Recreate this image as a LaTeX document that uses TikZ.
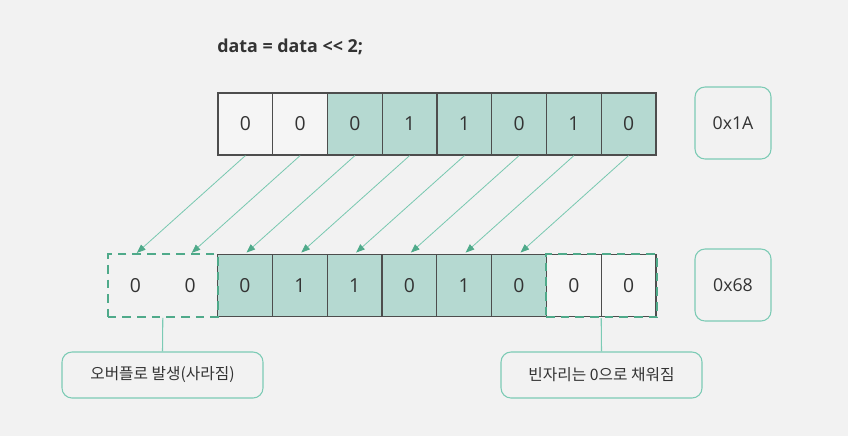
\documentclass[tikz,border=0pt]{standalone}
\usepackage{fontspec}
\setmainfont{Open Sans}
\newfontfamily\kr{Noto Sans CJK KR}
\usetikzlibrary{arrows.meta,fit}

\definecolor{bgcol}{RGB}{242,242,242}
\definecolor{bitfill}{RGB}{181,217,209}
\definecolor{bitline}{RGB}{77,77,77}
\definecolor{emptyfill}{RGB}{245,245,245}
\definecolor{arrowgreen}{RGB}{120,200,176}
\definecolor{dashgreen}{RGB}{79,170,138}
\definecolor{notegreen}{RGB}{124,203,181}
\definecolor{txtcol}{RGB}{51,51,51}

\begin{document}
\begin{tikzpicture}[x=0.75pt,y=0.75pt,yscale=-1,xscale=1,
    bit/.style={minimum width=41.06pt,minimum height=46.5pt,inner sep=0pt,text=txtcol,font=\fontsize{14.5}{17}\selectfont},
    setbit/.style={bit,draw=bitline,line width=0.9pt,fill=bitfill},
    emptybit/.style={bit,draw=bitline,line width=0.9pt,fill=emptyfill},
    freebit/.style={bit},
    dashbox/.style={draw=dashgreen,line width=1.5pt,dash pattern={on 6.5pt off 4.5pt},inner sep=0pt},
    hexbox/.style={draw=notegreen,line width=0.8pt,rounded corners=7.5pt,minimum width=57pt,minimum height=54pt,text=txtcol,font=\fontsize{13.3}{16}\selectfont},
    notebox/.style={draw=notegreen,line width=0.8pt,rounded corners=7.5pt,minimum width=150.75pt,minimum height=34.5pt,text=txtcol,font=\kr\fontsize{11.8}{15}\selectfont},
    bitarrow/.style={draw=arrowgreen,line width=0.6pt,-{Triangle[length=6.5pt,width=5pt,color=dashgreen]},shorten >=1.5pt},
    noteline/.style={draw=notegreen,line width=0.8pt}]
    \useasboundingbox[fill=bgcol] (0,0) rectangle (848,436);

    % Title
    \node [anchor=west,inner sep=0pt,text=txtcol,font=\bfseries\fontsize{13.4}{16}\selectfont] (title) at (217,47) {data = data <\kern0pt< 2;};

    % Source bits
    \node [emptybit] (s0) at (245.4,124) {0};
    \node [emptybit] (s1) at (300.1,124) {0};
    \node [setbit] (s2) at (354.9,124) {0};
    \node [setbit] (s3) at (409.6,124) {1};
    \node [setbit] (s4) at (464.4,124) {1};
    \node [setbit] (s5) at (519.1,124) {0};
    \node [setbit] (s6) at (573.9,124) {1};
    \node [setbit] (s7) at (628.6,124) {0};

    % Shifted bits
    \node [freebit] (r0) at (135.4,285.5) {0};
    \node [freebit] (r1) at (190.2,285.5) {0};
    \node [setbit] (r2) at (245.0,285.5) {0};
    \node [setbit] (r3) at (299.8,285.5) {1};
    \node [setbit] (r4) at (354.6,285.5) {1};
    \node [setbit] (r5) at (409.4,285.5) {0};
    \node [setbit] (r6) at (464.2,285.5) {1};
    \node [setbit] (r7) at (519.0,285.5) {0};
    \node [emptybit] (r8) at (573.8,285.5) {0};
    \node [emptybit] (r9) at (628.6,285.5) {0};

    % Dashed groups
    \node [dashbox,fit=(r0)(r1)] (ovf) {};
    \node [dashbox,fit=(r8)(r9)] (fill) {};

    % Shift arrows
    \draw [bitarrow] (s0.south) -- (r0.north);
    \draw [bitarrow] (s1.south) -- (r1.north);
    \draw [bitarrow] (s2.south) -- (r2.north);
    \draw [bitarrow] (s3.south) -- (r3.north);
    \draw [bitarrow] (s4.south) -- (r4.north);
    \draw [bitarrow] (s5.south) -- (r5.north);
    \draw [bitarrow] (s6.south) -- (r6.north);
    \draw [bitarrow] (s7.south) -- (r7.north);

    % Hex values
    \node [hexbox] (hexa) at (733,123) {0x1A};
    \node [hexbox] (hexb) at (733,285) {0x68};

    % Notes
    \node [notebox] (ovfnote) at (162.5,375) {오버플로 발생(사라짐)};
    \node [notebox] (fillnote) at (601.5,375) {빈자리는 0으로 채워짐};
    \draw [noteline] (ovf.south) -- (ovfnote.north);
    \draw [noteline] (fill.south) -- (fillnote.north);
\end{tikzpicture}
\end{document}
